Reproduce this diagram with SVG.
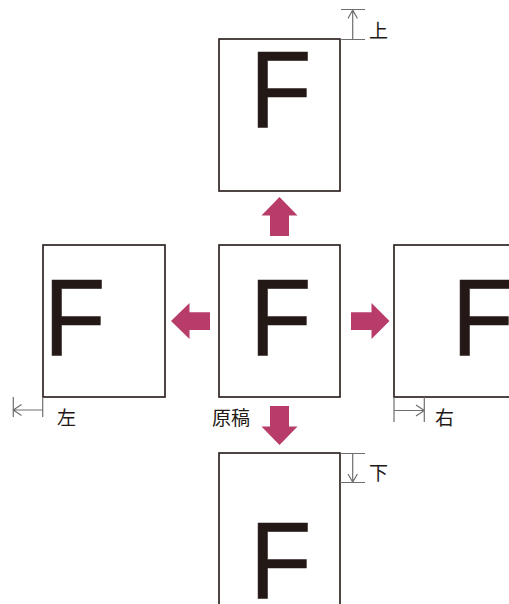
<svg xmlns="http://www.w3.org/2000/svg" width="509" height="604" viewBox="0 0 509 604">
<style>
.box{fill:#fff;stroke:#231815;stroke-width:1.6}
.f{font-family:"Liberation Sans",Arial,sans-serif;font-size:110px;fill:#231815;stroke:#231815;stroke-width:0.6}
.lbl{font-family:"Noto Sans CJK JP","Noto Sans CJK SC",sans-serif;font-size:19px;fill:#231815}
.dim{stroke:#6f6f6f;stroke-width:1.2;fill:none}
.arr{fill:#b83c6a}
</style>
<rect width="509" height="604" fill="#fff"/>
<g id="node-top">
<rect class="box" x="219" y="39" width="121" height="152"/>
<text class="f" x="0" y="0" transform="translate(249.7,128) scale(0.92,1)">F</text>
</g>
<g id="node-center">
<rect class="box" x="219" y="245" width="121" height="152"/>
<text class="f" x="0" y="0" transform="translate(249.7,356) scale(0.92,1)">F</text>
<text class="lbl" x="212" y="425">原稿</text>
</g>
<g id="node-left">
<rect class="box" x="43" y="245" width="122" height="152"/>
<text class="f" x="0" y="0" transform="translate(43.7,356) scale(0.92,1)">F</text>
</g>
<g id="node-right">
<rect class="box" x="394" y="245" width="122" height="152"/>
<text class="f" x="0" y="0" transform="translate(451.7,356) scale(0.92,1)">F</text>
</g>
<g id="node-bottom">
<rect class="box" x="219" y="453" width="121" height="152"/>
<text class="f" x="0" y="0" transform="translate(249.7,599) scale(0.92,1)">F</text>
</g>
<g id="connectors">
<polygon class="arr" points="279.5,197 297.5,215.5 289,215.5 289,236 270,236 270,215.5 261.5,215.5"/>
<polygon class="arr" points="279.5,445 297.5,426.5 289,426.5 289,406 270,406 270,426.5 261.5,426.5"/>
<polygon class="arr" points="171,321 189.5,303 189.5,312.3 210,312.3 210,330 189.5,330 189.5,339"/>
<polygon class="arr" points="389.5,321 371.5,303 371.5,312.3 351,312.3 351,330 371.5,330 371.5,339"/>
</g>
<g id="dim-top">
<path class="dim" d="M341,9.5H365M340,39.5H365M352.7,39.5V10M348,18.5L352.7,10L357.4,18.5"/>
<text class="lbl" x="369" y="38">上</text>
</g>
<g id="dim-left">
<path class="dim" d="M13.3,397V417M42.7,397V417M13.3,410H42.7M21.5,404.5L13.3,410L21.5,415.5"/>
<text class="lbl" x="57" y="425">左</text>
</g>
<g id="dim-right">
<path class="dim" d="M394,397V422M424.3,397V422M394,410.5H424.3M416,405L424.3,410.5L416,416"/>
<text class="lbl" x="435" y="425">右</text>
</g>
<g id="dim-bottom">
<path class="dim" d="M340,453.5H365M340,482.5H365M352.7,453.5V482M348,474L352.7,482L357.4,474"/>
<text class="lbl" x="369" y="480">下</text>
</g>
</svg>
